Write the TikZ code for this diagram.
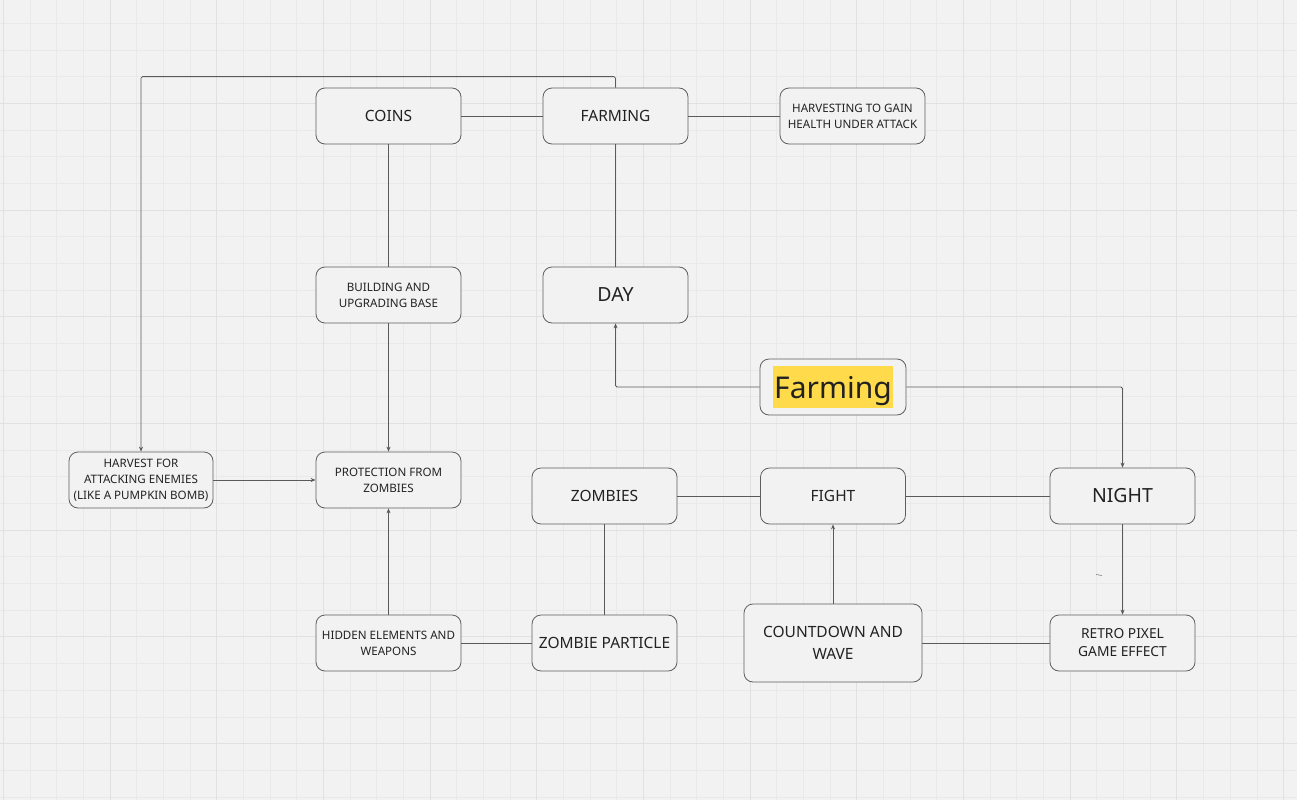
\documentclass[tikz,border=0pt]{standalone}
\usepackage{fontspec}
\setmainfont{Noto Sans}
\usetikzlibrary{arrows.meta}

\begin{document}
\begin{tikzpicture}[x=1pt,y=-1pt,>={Stealth[length=5pt,width=4pt]},
	box/.style={draw=boxline,fill=paper,rounded corners=9pt,line width=0.8pt,
		minimum width=145pt,minimum height=56pt,align=center,inner sep=2pt,text=ink},
	link/.style={draw=wire,line width=0.8pt,rounded corners=1.5pt},
	small/.style={font=\fontsize{11.6}{16}\selectfont},
	mid/.style={font=\fontsize{15.5}{22}\selectfont},
	big/.style={font=\fontsize{19.5}{24}\selectfont}]

\definecolor{paper}{HTML}{F2F2F2}
\definecolor{gridminor}{HTML}{E9E9E9}
\definecolor{gridmajor}{HTML}{E1E1E1}
\definecolor{boxline}{HTML}{5E5E5E}
\definecolor{wire}{HTML}{5A5A5A}
\definecolor{ink}{HTML}{222222}
\definecolor{marker}{HTML}{FFDA4A}

\useasboundingbox (0,0) rectangle (1297,800);

\begin{scope}
	\fill[paper] (0,0) rectangle (1297,800);
	\foreach \k in {0,...,48}{
		\draw[gridminor,line width=0.6pt] ({3.3+26.67*\k},0) -- ++(0,800);
	}
	\foreach \k in {1,...,30}{
		\draw[gridminor,line width=0.6pt] (0,{-3.3+26.67*\k}) -- ++(1297,0);
	}
	\foreach \k in {0,...,12}{
		\draw[gridmajor,line width=0.8pt] ({3.3+106.67*\k},0) -- ++(0,800);
	}
	\foreach \k in {1,...,7}{
		\draw[gridmajor,line width=0.8pt] (0,{-3.3+106.67*\k}) -- ++(1297,0);
	}
\end{scope}

\node[box,mid] (coins) at (388.5,116) {COINS};
\node[box,mid] (farming) at (615.5,116) {FARMING};
\node[box,small] (harvgain) at (852.5,116) {HARVESTING TO GAIN\\HEALTH UNDER ATTACK};
\node[box,small] (building) at (388.5,295) {BUILDING AND\\UPGRADING BASE};
\node[box,big] (day) at (615.5,295) {DAY};
\node[box,minimum width=146pt,font=\fontsize{30}{34}\selectfont] (farmtag) at (833,387)
	{\setlength{\fboxsep}{1pt}\colorbox{marker}{\rule[-9pt]{0pt}{40pt}Farming}};
\node[box,small,minimum width=144pt] (harvatk) at (141,480) {HARVEST FOR\\ATTACKING ENEMIES\\(LIKE A PUMPKIN BOMB)};
\node[box,small] (protect) at (388.5,480) {PROTECTION FROM\\ZOMBIES};
\node[box,mid] (zombies) at (604.5,496) {ZOMBIES};
\node[box,mid] (fight) at (833,496) {FIGHT};
\node[box,big] (night) at (1122.5,496) {NIGHT};
\node[box,small] (hidden) at (388.5,643) {HIDDEN ELEMENTS AND\\WEAPONS};
\node[box,mid] (particle) at (604.5,643) {ZOMBIE PARTICLE};
\node[box,mid,minimum width=178pt,minimum height=78pt] (countdown) at (833,643) {COUNTDOWN AND\\WAVE};
\node[box,font=\fontsize{13.8}{18}\selectfont] (retro) at (1122.5,643) {RETRO PIXEL\\GAME EFFECT};

\draw[link] (coins) -- (farming);
\draw[link] (farming) -- (harvgain);
\draw[link] (coins) -- (building);
\draw[link] (farming) -- (day);
\draw[link,->] (building) -- (protect);
\draw[link,->] (farming.north) -- ++(0,-11) -| (harvatk.north);
\draw[link,->] (harvatk) -- (protect);
\draw[link,->] (hidden) -- (protect);
\draw[link] (hidden) -- (particle);
\draw[link] (particle) -- (zombies);
\draw[link] (zombies) -- (fight);
\draw[link] (fight) -- (night);
\draw[link,->] (countdown) -- (fight);
\draw[link] (countdown) -- (retro);
\draw[link,->] (night) -- (retro);
\draw[link,->] (farmtag.west) -| (day.south);
\draw[link,->] (farmtag.east) -| (night.north);

\draw[wire!70,line width=0.7pt] (1096,574.5) -- (1102,575.5);

\end{tikzpicture}
\end{document}
